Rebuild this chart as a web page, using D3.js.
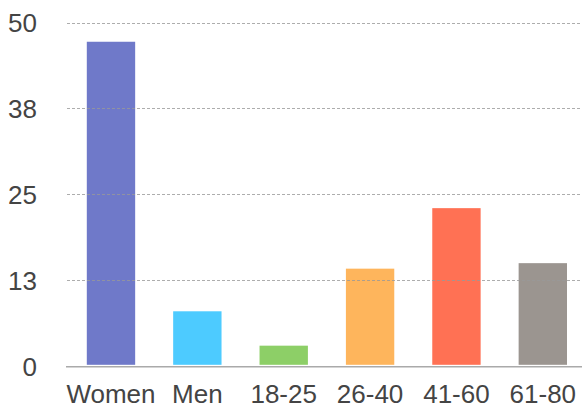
<!DOCTYPE html>
<html><head><meta charset="utf-8">
<script src="https://cdn.jsdelivr.net/npm/d3@7"></script>
<style>html,body{margin:0;padding:0;background:#fff;overflow:hidden}svg{display:block}</style>
</head><body>
<script>
const categories = ["Women","Men","18-25","26-40","41-60","61-80"];
const values = [47.2, 8, 3, 14.2, 23, 15];
const colors = ["#6f79c9","#4dcbff","#8dcf67","#feb55c","#ff7154","#9b9590"];
const tickValues = [0, 12.5, 25, 37.5, 50];
const tickLabels = ["0","13","25","38","50"];

const W = 582, H = 404;
const svg = d3.select("body").append("svg").attr("width", W).attr("height", H);
const y = d3.scaleLinear().domain([0, 50]).range([366.3, 22.5]);
const x = d3.scaleBand().domain(categories).range([67.8, 586]).paddingInner(0.44).paddingOuter(0.22);
const font = "'Liberation Sans', Arial, sans-serif";

// bars
svg.append("g").selectAll("rect").data(categories).join("rect")
  .attr("x", d => x(d))
  .attr("width", x.bandwidth())
  .attr("y", (d,i) => y(values[i]))
  .attr("height", (d,i) => y(0) - y(values[i]) - 1.5)
  .attr("fill", (d,i) => colors[i]);

// grid lines (over bars)
svg.append("g").selectAll("line").data(tickValues.filter(v => v > 0)).join("line")
  .attr("x1", 67).attr("x2", W)
  .attr("y1", d => Math.round(y(d)) + 0.5).attr("y2", d => Math.round(y(d)) + 0.5)
  .attr("stroke", "#999").attr("stroke-opacity", 0.8).attr("stroke-width", 1)
  .attr("stroke-dasharray", "3,2");

// baseline
svg.append("line").attr("x1", 66).attr("x2", W)
  .attr("y1", y(0) + 0.5).attr("y2", y(0) + 0.5)
  .attr("stroke", "#aaa").attr("stroke-width", 1.5);

// y labels
svg.append("g").selectAll("text").data(tickValues).join("text")
  .attr("x", 37).attr("y", d => y(d) + 9.4)
  .attr("text-anchor", "end")
  .attr("font-family", font).attr("font-size", 26).attr("fill", "#444")
  .text((d,i) => tickLabels[i]);

// x labels
svg.append("g").selectAll("text").data(categories).join("text")
  .attr("x", d => x(d) + x.bandwidth()/2).attr("y", 403)
  .attr("text-anchor", "middle")
  .attr("font-family", font).attr("font-size", 26).attr("fill", "#444")
  .text(d => d);
</script>
</body></html>
